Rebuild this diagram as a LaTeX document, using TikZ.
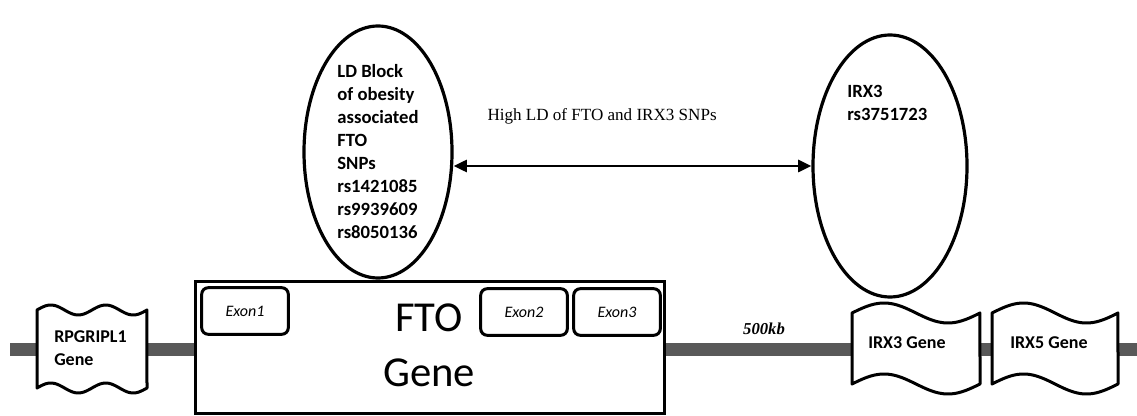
\documentclass[tikz,border=0pt]{standalone}
\usepackage{fontspec}
\setmainfont{Carlito}
\newfontfamily\timesfont{Liberation Serif}
\usetikzlibrary{positioning,arrows.meta,shapes.geometric}
\definecolor{barcol}{RGB}{89,89,89}

% wavy gene outline: x0, x1, top, bottom, amplitude, periods
\newcommand{\genetape}[6]{%
  \draw[tape] plot[domain=0:1,samples=50] ({#1+(#2-#1)*\x},{#3-#5*sin(360*#6*\x)})
    -- plot[domain=1:0,samples=50] ({#1+(#2-#1)*\x},{#4-#5*sin(360*#6*\x)}) -- cycle;}

\begin{document}
\begin{tikzpicture}[x=0.75pt,y=-0.75pt,
  tape/.style={draw,line width=2.25pt,fill=white,line join=round},
  boxlab/.style={font=\fontsize{13.5}{17}\selectfont\bfseries,align=left,inner sep=0pt},
  snplab/.style={font=\fontsize{14}{17.25}\selectfont\bfseries,align=left,inner sep=0pt},
  exon/.style={draw,line width=2.25pt,rounded corners=5pt,minimum width=65pt,minimum height=35pt,
    font=\fontsize{12}{14}\selectfont\itshape,fill=white},
  snp/.style={draw,ellipse,line width=2.4pt,fill=white},
  ldtip/.tip={Triangle[length=10pt,width=9pt]}]
  \useasboundingbox (0,0) rectangle (1137,416);
  % chromosome
  \fill[barcol] (10,343) rectangle (1137,356);
  % neighbouring genes
  \genetape{37}{147}{310}{388}{5}{2}
  \node[boxlab,anchor=west] (rpgr) at (54,348) {RPGRIPL1\\Gene};
  \genetape{852}{980}{313}{384}{10}{1}
  \node[boxlab,anchor=west] (irx3) at (868,343) {IRX3 Gene};
  \genetape{992}{1118}{313}{384}{10}{1}
  \node[boxlab,anchor=west] (irx5) at (1010,343) {IRX5 Gene};
  % FTO with its exons
  \node[draw,line width=2.25pt,fill=white,minimum width=351.75pt,minimum height=98.25pt] (fto) at (429.5,347.5) {};
  \node[font=\fontsize{32}{36}\selectfont] (ftoname) at (429,318) {FTO};
  \node[font=\fontsize{32}{36}\selectfont] (ftogene) at (429,373) {Gene};
  \node[exon] (exon1) at (245,311) {Exon1};
  \node[exon] (exon2) at (524,312) {Exon2};
  \node[exon,right=2.5pt of exon2] (exon3) {Exon3};
  \node[font=\timesfont\fontsize{12.5}{15}\selectfont\bfseries\itshape] (kb) at (764,329) {500kb};
  % SNP blocks
  \node[snp,minimum width=111pt,minimum height=189pt] (ldblock) at (378,152) {};
  \node[snplab] (ldtext) at (ldblock) {LD Block\\of obesity\\associated\\FTO\\SNPs\\rs1421085\\rs9939609\\rs8050136};
  \node[snp,minimum width=115.5pt,minimum height=196.5pt] (irxsnp) at (890,166) {};
  \node[snplab,anchor=north west] (irxtext) at (847,85) {IRX3\\rs3751723};
  \draw[ldtip-ldtip,line width=2.2pt]
    (ldblock.east |- irxsnp.west) -- (irxsnp.west)
    node[pos=0.415,yshift=37pt,font=\timesfont\fontsize{12.8}{15}\selectfont] (hld) {High LD of FTO and IRX3 SNPs};
\end{tikzpicture}
\end{document}
